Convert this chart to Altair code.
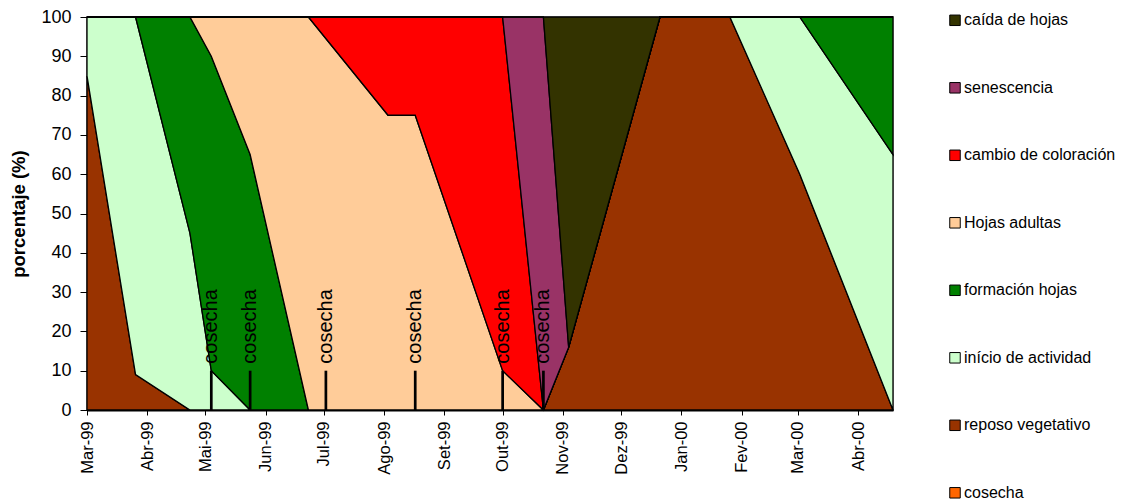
import altair as alt
import pandas as pd

# ---- data ----
DATES = ["1999-03-01", "1999-03-26", "1999-04-23", "1999-05-04", "1999-05-24",
         "1999-06-23", "1999-08-03", "1999-08-17", "1999-10-01", "1999-10-22",
         "1999-11-04", "1999-12-21", "2000-01-26", "2000-03-02", "2000-04-19"]
REPOSO = [85, 9, 0, 0, 0, 0, 0, 0, 0, 0, 16, 100, 100, 60, 0]
INICIO = [15, 91, 45, 10, 0, 0, 0, 0, 0, 0, 0, 0, 0, 40, 65]
FORMACION = [0, 0, 55, 80, 65, 0, 0, 0, 0, 0, 0, 0, 0, 0, 35]
HOJAS = [0, 0, 0, 10, 35, 100, 75, 75, 10, 0, 0, 0, 0, 0, 0]
CAMBIO = [0, 0, 0, 0, 0, 0, 25, 25, 90, 0, 0, 0, 0, 0, 0]
SENESCENCIA = [0, 0, 0, 0, 0, 0, 0, 0, 0, 100, 0, 0, 0, 0, 0]
CAIDA = [0, 0, 0, 0, 0, 0, 0, 0, 0, 0, 84, 0, 0, 0, 0]

COSECHA_DATES = ["1999-05-04", "1999-05-24", "1999-07-02", "1999-08-17",
                 "1999-10-01", "1999-10-22"]
COSECHA_VALUES = [10, 10, 10, 10, 10, 10]
COSECHA_LABEL = "cosecha"

LEGEND_ORDER = ["caída de hojas", "senescencia", "cambio de coloración",
                "Hojas adultas", "formación hojas", "início de actividad",
                "reposo vegetativo", "cosecha"]
COLORS = ["#333300", "#993366", "#FF0000", "#FFCC99", "#008000", "#CCFFCC",
          "#993300", "#FF6600"]

MONTH_LABELS = ["Jan", "Fev", "Mar", "Abr", "Mai", "Jun", "Jul", "Ago", "Set",
                "Out", "Nov", "Dez"]
TICK_DATES = ["1999-03-01", "1999-04-01", "1999-05-01", "1999-06-01", "1999-07-01",
              "1999-08-01", "1999-09-01", "1999-10-01", "1999-11-01", "1999-12-01",
              "2000-01-01", "2000-02-01", "2000-03-01", "2000-04-01"]
Y_TICKS = [0, 10, 20, 30, 40, 50, 60, 70, 80, 90, 100]

# ---- build tables ----
series = [("reposo vegetativo", REPOSO), ("início de actividad", INICIO),
          ("formación hojas", FORMACION), ("Hojas adultas", HOJAS),
          ("cambio de coloración", CAMBIO), ("senescencia", SENESCENCIA),
          ("caída de hojas", CAIDA)]
rows = []
for order, (name, vals) in enumerate(series):
    for d, v in zip(DATES, vals):
        rows.append({"fecha": d, "serie": name, "valor": v, "orden": order})
df = pd.DataFrame(rows)
cos = pd.DataFrame({"fecha": COSECHA_DATES, "valor": COSECHA_VALUES,
                    "base": [0] * len(COSECHA_DATES),
                    "label": [COSECHA_LABEL] * len(COSECHA_DATES)})


def ms(s):
    return int(pd.Timestamp(s, tz="UTC").timestamp() * 1000)


tick_ms = [ms(t) for t in TICK_DATES]
month_js = "[" + ",".join("'%s'" % m for m in MONTH_LABELS) + "]"
label_expr = month_js + "[utcmonth(datum.value)] + '-' + utcFormat(datum.value, '%y')"

FONT = "Liberation Sans"
x_scale = alt.Scale(type="utc", domain=[ms(DATES[0]), ms(DATES[-1])], nice=False)
y_scale = alt.Scale(domain=[0, 100], nice=False)

x_axis = alt.Axis(values=tick_ms, labelExpr=label_expr, labelAngle=270,
                  labelFontSize=16.5, labelFont=FONT, labelColor="black",
                  labelPadding=6, tickSize=5, tickColor="black",
                  domainColor="black", domainWidth=2, grid=False, title=None,
                  labelOverlap=False)
y_axis = alt.Axis(values=Y_TICKS, labelOverlap=False,
                  labelFontSize=18, labelFont=FONT,
                  labelColor="black", labelPadding=9, tickSize=7,
                  tickColor="black", domainColor="black", domainWidth=1.5,
                  grid=False, title="porcentaje (%)", titleFont=FONT,
                  titleFontSize=18.5, titleFontWeight="bold", titleColor="black",
                  titlePadding=12)

legend = alt.Legend(title=None, orient="none", legendX=860, legendY=-4.7,
                    symbolType="square", symbolSize=110, symbolStrokeColor="black",
                    symbolStrokeWidth=1, labelFontSize=16, labelFont=FONT,
                    labelColor="black", rowPadding=51.5, labelOffset=1,
                    labelLimit=400, padding=0)

areas = alt.Chart(df).mark_area(stroke="black", strokeWidth=1.3,
                                interpolate="linear", opacity=1).encode(
    x=alt.X("fecha:T", scale=x_scale, axis=x_axis, title=None),
    y=alt.Y("valor:Q", stack="zero", scale=y_scale, axis=y_axis,
            title="porcentaje (%)"),
    color=alt.Color("serie:N", scale=alt.Scale(domain=LEGEND_ORDER, range=COLORS),
                    legend=legend),
    order=alt.Order("orden:Q", sort="ascending"),
)

rules = alt.Chart(cos).mark_rule(color="black", strokeWidth=2.7).encode(
    x=alt.X("fecha:T", scale=x_scale, axis=x_axis, title=None),
    y=alt.Y("base:Q", scale=y_scale, axis=y_axis, title="porcentaje (%)"),
    y2="valor:Q",
)

labels = alt.Chart(cos).mark_text(angle=270, align="left", baseline="middle",
                                  dx=7, fontSize=20, font=FONT,
                                  color="black").encode(
    x=alt.X("fecha:T", scale=x_scale, axis=x_axis, title=None),
    y=alt.Y("valor:Q", scale=y_scale, axis=y_axis, title="porcentaje (%)"),
    text="label:N",
)

chart = alt.layer(areas, rules, labels).properties(
    width=806, height=393,
    autosize="none",
    padding={"left": 79, "top": 9, "right": 224, "bottom": 90},
).configure_view(stroke="#999999", strokeWidth=1.5)

chart.save("out.html", embed_options={"renderer": "svg", "actions": False})
